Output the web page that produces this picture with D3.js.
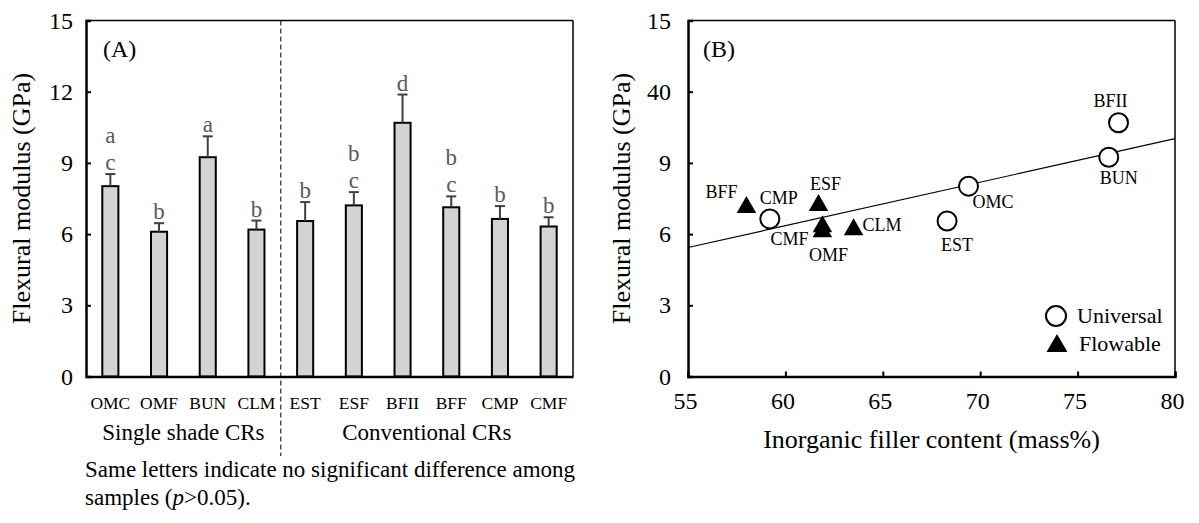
<!DOCTYPE html>
<html><head><meta charset="utf-8">
<script src="https://cdn.jsdelivr.net/npm/d3@7/dist/d3.min.js"></script>
<style>
html,body{margin:0;padding:0;background:#fff;}
svg{display:block;font-family:"Liberation Serif","Times New Roman",serif;}
</style></head>
<body>
<svg id="chart" width="1199" height="523"></svg>
<script>
// ---------- data ----------
const categories = ["OMC","OMF","BUN","CLM","EST","ESF","BFII","BFF","CMP","CMF"];
const meanModulus = [8.02,6.10,9.24,6.19,6.55,7.21,10.69,7.13,6.64,6.32];
const sdModulus   = [0.51,0.36,0.88,0.38,0.80,0.56,1.19,0.46,0.54,0.39];
const letterGroups = [["c","a"],["b"],["a"],["b"],["b"],["c","b"],["d"],["c","b"],["b"],["b"]];
const groupNames = ["Single shade CRs","Conventional CRs"];
const groupSizes = [4,6];
const yTicks = [0,3,6,9,12,15];
const yTickLabelsA = ["0","3","6","9","12","15"];
const yTickLabelsB = ["0","3","6","9","40","15"];
const xTicksB = [55,60,65,70,75,80];
const fillerContent = [69.4,61.9,76.6,63.5,68.3,61.7,77.1,58.0,59.2,61.9];
const materialType = ["Universal","Flowable","Universal","Flowable","Universal","Flowable","Universal","Flowable","Universal","Flowable"];
const legendItems = ["Universal","Flowable"];
const noteLines = ["Same letters indicate no significant difference among", "samples (|p|>0.05)."];
const yTitle = "Flexural modulus (GPa)";
const xTitleB = "Inorganic filler content (mass%)";

// ---------- layout (not data) ----------
const labelPlacement = {
  BFF:{anchor:"end",dx:-9,dy:-9}, CMP:{anchor:"middle",dx:9,dy:-15},
  ESF:{anchor:"middle",dx:7,dy:-15}, CMF:{anchor:"end",dx:-14,dy:18},
  OMF:{anchor:"middle",dx:6,dy:29}, CLM:{anchor:"start",dx:9,dy:1},
  OMC:{anchor:"start",dx:4,dy:22}, EST:{anchor:"middle",dx:10,dy:30},
  BFII:{anchor:"middle",dx:-8,dy:-16}, BUN:{anchor:"middle",dx:10,dy:27}
};

const svg = d3.select("#chart");
const A = {l:86, r:573, t:20.5, b:376.5};
const B = {l:688, r:1175, t:20.5, b:376.5};

// ---------- Panel A ----------
const xA = d3.scaleBand().domain(categories).range([A.l, A.r]).paddingInner(0.67).paddingOuter(0.335);
const yA = d3.scaleLinear().domain([0,15]).range([A.b, A.t]);
const gA = svg.append("g");

gA.append("line").attr("x1",A.l).attr("x2",A.r).attr("y1",A.t).attr("y2",A.t).attr("stroke","#000").attr("stroke-width",1.5);
gA.append("line").attr("x1",A.r).attr("x2",A.r).attr("y1",A.t).attr("y2",A.b).attr("stroke","#000").attr("stroke-width",1.5);

const divX = (xA(categories[3]) + xA.bandwidth()/2 + xA(categories[4]) + xA.bandwidth()/2)/2;
gA.append("line").attr("x1",divX).attr("x2",divX).attr("y1",A.t).attr("y2",456)
  .attr("stroke","#000").attr("stroke-width",1).attr("stroke-dasharray","5,3");

const rows = categories.map((c,i)=>({c, m:meanModulus[i], sd:sdModulus[i], letters:letterGroups[i]}));
gA.selectAll("rect.bar").data(rows).join("rect")
  .attr("x",d=>xA(d.c)).attr("width",xA.bandwidth())
  .attr("y",d=>yA(d.m)).attr("height",d=>yA(0)-yA(d.m))
  .attr("fill","#d3d3d3").attr("stroke","#000").attr("stroke-width",2);

const eb = gA.selectAll("g.eb").data(rows).join("g");
eb.append("line").attr("x1",d=>xA(d.c)+xA.bandwidth()/2).attr("x2",d=>xA(d.c)+xA.bandwidth()/2)
  .attr("y1",d=>yA(d.m)).attr("y2",d=>yA(d.m+d.sd)).attr("stroke","#404040").attr("stroke-width",2);
eb.append("line").attr("x1",d=>xA(d.c)+xA.bandwidth()/2-5).attr("x2",d=>xA(d.c)+xA.bandwidth()/2+5)
  .attr("y1",d=>yA(d.m+d.sd)).attr("y2",d=>yA(d.m+d.sd)).attr("stroke","#404040").attr("stroke-width",2);

rows.forEach(d=>{
  d.letters.forEach((L,k)=>{
    gA.append("text").attr("x",xA(d.c)+xA.bandwidth()/2).attr("y",yA(d.m+d.sd)-4-k*27)
      .attr("text-anchor","middle").attr("font-size",23).attr("fill","#5a5a5a").text(L);
  });
});

const axA = d3.axisLeft(yA).tickValues(yTicks).tickFormat((d,i)=>yTickLabelsA[i]).tickSize(-5).tickPadding(13);
const gyA = gA.append("g").attr("transform",`translate(${A.l},0)`).call(axA);
gyA.select(".domain").attr("stroke-width",2.5);
gyA.selectAll(".tick line").attr("stroke-width",2);
gyA.selectAll("text").attr("font-size",24).attr("font-family","Liberation Serif").attr("fill","#000");

const axxA = d3.axisBottom(xA).tickSize(0).tickPadding(20);
const gxA = gA.append("g").attr("transform",`translate(0,${A.b})`).call(axxA);
gxA.select(".domain").attr("stroke-width",2.5);
gxA.selectAll("text").attr("font-size",17.5).attr("font-family","Liberation Serif").attr("fill","#000");

let start = 0;
groupNames.forEach((g,i)=>{
  const first = categories[start], last = categories[start+groupSizes[i]-1];
  const cx = (xA(first) + xA(last) + xA.bandwidth())/2;
  gA.append("text").attr("x",cx).attr("y",440).attr("text-anchor","middle").attr("font-size",23).text(g);
  start += groupSizes[i];
});

gA.append("text").attr("x",103).attr("y",57).attr("font-size",24).text("(A)");
gA.append("text").attr("transform",`translate(30,${(A.t+A.b)/2}) rotate(-90)`).attr("text-anchor","middle")
  .attr("font-size",26).text(yTitle);

gA.append("text").attr("x",85).attr("y",477).attr("font-size",23).text(noteLines[0]);
const n2 = gA.append("text").attr("x",85).attr("y",505).attr("font-size",23);
noteLines[1].split("|").forEach((seg,i)=>{
  n2.append("tspan").attr("font-style", i===1 ? "italic":"normal").text(seg);
});

// ---------- Panel B ----------
const xB = d3.scaleLinear().domain([55,80]).range([B.l, B.r]);
const yB = d3.scaleLinear().domain([0,15]).range([B.b, B.t]);
const gB = svg.append("g");
gB.append("line").attr("x1",B.l).attr("x2",B.r).attr("y1",B.t).attr("y2",B.t).attr("stroke","#000").attr("stroke-width",1.5);
gB.append("line").attr("x1",B.r).attr("x2",B.r).attr("y1",B.t).attr("y2",B.b).attr("stroke","#000").attr("stroke-width",1.5);

const axyB = d3.axisLeft(yB).tickValues(yTicks).tickFormat((d,i)=>yTickLabelsB[i]).tickSize(-5).tickPadding(17);
const gyB = gB.append("g").attr("transform",`translate(${B.l},0)`).call(axyB);
gyB.select(".domain").attr("stroke-width",2.5);
gyB.selectAll(".tick line").attr("stroke-width",2);
gyB.selectAll("text").attr("font-size",24).attr("font-family","Liberation Serif").attr("fill","#000");

const axxB = d3.axisBottom(xB).tickValues(xTicksB).tickFormat(d3.format("d")).tickSize(-5).tickPadding(15);
const gxB = gB.append("g").attr("transform",`translate(0,${B.b})`).call(axxB);
gxB.select(".domain").attr("stroke-width",2.5);
gxB.selectAll(".tick line").attr("stroke-width",2);
gxB.selectAll("text").attr("font-size",24).attr("font-family","Liberation Serif").attr("fill","#000").attr("dx",-3);

const pts = categories.map((c,i)=>({c, x:fillerContent[i], y:meanModulus[i], t:materialType[i]}));
const mx = d3.mean(pts,d=>d.x), my = d3.mean(pts,d=>d.y);
const slope = d3.sum(pts,d=>(d.x-mx)*(d.y-my))/d3.sum(pts,d=>(d.x-mx)**2);
const icpt = my - slope*mx;
gB.append("line").attr("x1",xB(55)).attr("y1",yB(icpt+slope*55)).attr("x2",xB(80)).attr("y2",yB(icpt+slope*80))
  .attr("stroke","#000").attr("stroke-width",1.2);

const tri = d3.symbol().type(d3.symbolTriangle).size(165);
pts.forEach(d=>{
  if (d.t==="Universal") {
    gB.append("circle").attr("cx",xB(d.x)).attr("cy",yB(d.y)).attr("r",9.5).attr("fill","#fff").attr("stroke","#000").attr("stroke-width",2);
  } else {
    gB.append("path").attr("d",tri).attr("transform",`translate(${xB(d.x)},${yB(d.y)})`).attr("fill","#000");
  }
});
pts.forEach(d=>{
  const p = labelPlacement[d.c];
  gB.append("text").attr("x",xB(d.x)+p.dx).attr("y",yB(d.y)+p.dy).attr("text-anchor",p.anchor)
    .attr("font-size",18).text(d.c);
});

gB.append("circle").attr("cx",1056).attr("cy",316).attr("r",10).attr("fill","#fff").attr("stroke","#000").attr("stroke-width",2);
gB.append("path").attr("d",d3.symbol().type(d3.symbolTriangle).size(190)).attr("transform","translate(1057,346)").attr("fill","#000");
gB.append("text").attr("x",1077).attr("y",323).attr("font-size",22).text(legendItems[0]);
gB.append("text").attr("x",1079).attr("y",351).attr("font-size",22).text(legendItems[1]);

gB.append("text").attr("x",703).attr("y",57).attr("font-size",24).text("(B)");
gB.append("text").attr("transform",`translate(630,${(B.t+B.b)/2}) rotate(-90)`).attr("text-anchor","middle")
  .attr("font-size",26).text(yTitle);
gB.append("text").attr("x",(B.l+B.r)/2).attr("y",448).attr("text-anchor","middle").attr("font-size",26).text(xTitleB);
</script>
</body></html>
